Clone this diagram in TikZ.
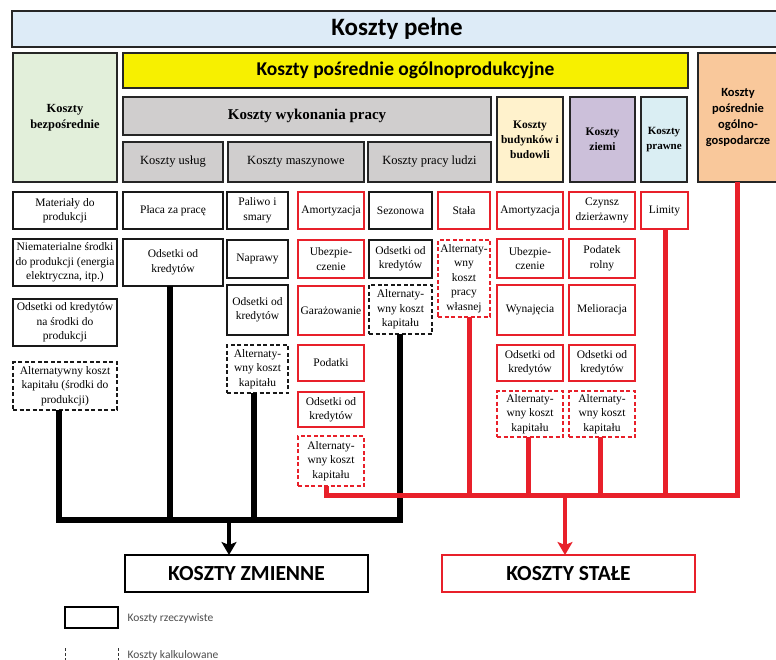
\documentclass[tikz,border=0pt]{standalone}
\usepackage{fontspec}
\setmainfont{Liberation Serif}
\newfontfamily\calfont{Carlito}
\usetikzlibrary{arrows.meta}
\definecolor{redc}{HTML}{E8202A}
\definecolor{hblue}{HTML}{DDEBF7}
\definecolor{hgreen}{HTML}{E2EFDA}
\definecolor{hyel}{HTML}{F7F000}
\definecolor{horange}{HTML}{F9C89B}
\definecolor{hgrey}{HTML}{D0CECE}
\definecolor{hcream}{HTML}{FFF2CC}
\definecolor{hlav}{HTML}{CCC0DA}
\definecolor{hcyan}{HTML}{DAEEF3}
\newcommand\mybx[7]{%
  \pgfmathsetmacro\myBW{#4-#2}\pgfmathsetmacro\myBH{#5-#3}%
  \pgfmathsetmacro\myCX{(#2+#4)/2}\pgfmathsetmacro\myCY{(#3+#5)/2}%
  \node[#6, minimum width=\myBW pt, minimum height=\myBH pt] (#1) at (\myCX,\myCY) {#7};}
\tikzset{
  hdr/.style={draw=black!85, line width=1.8pt, align=center, inner sep=0pt, outer sep=0pt},
  item/.style={draw=black!90, line width=1.6pt, fill=white, align=center, inner sep=0pt, outer sep=0pt,
    font=\fontsize{11.5}{14.5}\selectfont},
  itemr/.style={item, draw=redc, line width=1.4pt},
  itemd/.style={item, line width=1.3pt, dash pattern=on 4pt off 2.5pt},
  itemrd/.style={itemr, line width=1.3pt, dash pattern=on 4pt off 2.5pt},
  blk/.style={line width=6pt, black, line join=miter},
  rd/.style={line width=5pt, redc, line join=miter},
  big/.style={draw, line width=1.6pt, fill=white, inner sep=0pt, outer sep=0pt,
    font=\calfont\bfseries\fontsize{21.5}{24}\selectfont},
  legt/.style={anchor=west, text=black!70, font=\calfont\fontsize{11.5}{13}\selectfont}
}
\begin{document}
\begin{tikzpicture}[x=1pt,y=-1pt]
\useasboundingbox (0,0) rectangle (776,660);
\clip (0,0) rectangle (776,660);
% headers
\mybx{kp}{12}{11}{782}{47}{hdr, fill=hblue, font=\calfont\bfseries\fontsize{25}{28}\selectfont}{Koszty pełne}
\mybx{bez}{13}{53}{117}{182}{hdr, fill=hgreen, font=\bfseries\fontsize{12.4}{16}\selectfont}{Koszty\\bezpośrednie}
\mybx{ylw}{123}{53}{688}{88}{hdr, fill=hyel, font=\calfont\bfseries\fontsize{19.5}{22}\selectfont}{Koszty pośrednie ogólnoprodukcyjne}
\mybx{ogg}{698}{53}{778}{182}{hdr, fill=horange, font=\calfont\bfseries\fontsize{12.5}{16}\selectfont}{Koszty\\pośrednie\\ogólno-\\gospodarcze}
\mybx{wyk}{123}{97}{491}{135}{hdr, fill=hgrey, font=\bfseries\fontsize{15}{18}\selectfont}{Koszty wykonania pracy}
\mybx{usl}{123}{142}{223}{182}{hdr, fill=hgrey, font=\fontsize{12.5}{15}\selectfont}{Koszty usług}
\mybx{masz}{228}{142}{364}{182}{hdr, fill=hgrey, font=\fontsize{12.5}{15}\selectfont}{Koszty maszynowe}
\mybx{ludz}{368}{142}{491}{182}{hdr, fill=hgrey, font=\fontsize{12.5}{15}\selectfont}{Koszty pracy ludzi}
\mybx{bud}{497}{97}{563}{182}{hdr, fill=hcream, font=\bfseries\fontsize{11.5}{15}\selectfont}{Koszty\\budynków i\\budowli}
\mybx{zie}{570}{97}{635}{182}{hdr, fill=hlav, font=\bfseries\fontsize{11.5}{15}\selectfont}{Koszty\\ziemi}
\mybx{pra}{641}{97}{687}{182}{hdr, fill=hcyan, font=\bfseries\fontsize{11}{15}\selectfont}{Koszty\\prawne}
% column 1
\mybx{c1a}{13}{192}{117}{229}{item}{Materiały do\\produkcji}
\mybx{c1b}{13}{239}{117}{286}{item}{Niematerialne środki\\do produkcji (energia\\elektryczna, itp.)}
\mybx{c1c}{13}{299}{117}{346}{item}{Odsetki od kredytów\\na środki do\\produkcji}
\mybx{c1d}{13}{362}{117}{410}{itemd}{Alternatywny koszt\\kapitału (środki do\\produkcji)}
% column 2
\mybx{c2a}{123}{192}{223}{229}{item}{Płaca za pracę}
\mybx{c2b}{123}{239}{223}{286}{item}{Odsetki od\\kredytów}
% column 3
\mybx{c3a}{227}{192}{288}{229}{item}{Paliwo i\\smary}
\mybx{c3b}{227}{240}{288}{278}{item}{Naprawy}
\mybx{c3c}{227}{285}{288}{335}{item}{Odsetki od\\kredytów}
\mybx{c3d}{227}{345}{288}{393}{itemd}{Alternaty-\\wny koszt\\kapitału}
% column 4
\mybx{c4a}{298}{192}{364}{229}{itemr}{Amortyzacja}
\mybx{c4b}{298}{240}{364}{278}{itemr}{Ubezpie-\\czenie}
\mybx{c4c}{298}{286}{364}{335}{itemr}{Garażowanie}
\mybx{c4d}{298}{345}{364}{381}{itemr}{Podatki}
\mybx{c4e}{298}{392}{364}{427}{itemr}{Odsetki od\\kredytów}
\mybx{c4f}{298}{436}{364}{486}{itemrd}{Alternaty-\\wny koszt\\kapitału}
% column 5
\mybx{c5a}{369}{192}{432}{229}{item}{Sezonowa}
\mybx{c5b}{369}{240}{432}{278}{item}{Odsetki od\\kredytów}
\mybx{c5c}{369}{285}{432}{334}{itemd}{Alternaty-\\wny koszt\\kapitału}
% column 6
\mybx{c6a}{438}{192}{490}{229}{itemr}{Stała}
\mybx{c6b}{438}{240}{490}{317}{itemrd}{Alternaty-\\wny\\koszt\\pracy\\własnej}
% column 7
\mybx{c7a}{497}{192}{563}{229}{itemr}{Amortyzacja}
\mybx{c7b}{497}{239}{563}{278}{itemr}{Ubezpie-\\czenie}
\mybx{c7c}{497}{285}{563}{335}{itemr}{Wynajęcia}
\mybx{c7d}{497}{345}{563}{381}{itemr}{Odsetki od\\kredytów}
\mybx{c7e}{497}{391}{563}{437}{itemrd}{Alternaty-\\wny koszt\\kapitału}
% column 8
\mybx{c8a}{569}{192}{635}{229}{itemr}{Czynsz\\dzierżawny}
\mybx{c8b}{569}{239}{635}{278}{itemr}{Podatek\\rolny}
\mybx{c8c}{569}{285}{635}{335}{itemr}{Melioracja}
\mybx{c8d}{569}{345}{635}{381}{itemr}{Odsetki od\\kredytów}
\mybx{c8e}{569}{391}{635}{437}{itemrd}{Alternaty-\\wny koszt\\kapitału}
% column 9
\mybx{c9a}{641}{192}{688}{229}{itemr}{Limity}
% result boxes
\mybx{zm}{125}{555}{368}{592}{big}{KOSZTY ZMIENNE}
\mybx{st}{442}{555}{695}{592}{big, draw=redc}{KOSZTY STAŁE}
% black bus
\coordinate (bk1) at (59,520);
\coordinate (bk2) at (170,520);
\coordinate (bk3) at (254,520);
\coordinate (bk5) at (400,520);
\coordinate (bkA) at (229,520);
\draw[blk] (bk1 |- c1d.south) -- (bk1) -- (bk5) -- (bk5 |- c5c.south);
\draw[blk] (bk2 |- c2b.south) -- (bk2);
\draw[blk] (bk3 |- c3d.south) -- (bk3);
\draw[black, line width=3.5pt, -{Stealth[length=13pt,width=15pt,inset=3pt]}] (bkA) -- (bkA |- zm.north);
% red bus
\coordinate (r4) at (326,495);
\coordinate (r6) at (469,495);
\coordinate (r7) at (528,495);
\coordinate (r8) at (600,495);
\coordinate (r9) at (665,495);
\coordinate (r10) at (737,495);
\coordinate (rA) at (565,495);
\draw[rd] (r4 |- c4f.south) -- (r4) -- (r10) -- (r10 |- ogg.south);
\draw[rd] (r6 |- c6b.south) -- (r6);
\draw[rd] (r7 |- c7e.south) -- (r7);
\draw[rd] (r8 |- c8e.south) -- (r8);
\draw[rd] (r9 |- c9a.south) -- (r9);
\draw[redc, line width=3.5pt, -{Stealth[length=13pt,width=15pt,inset=3pt]}] (rA) -- (rA |- st.north);
% legend
\mybx{lg1}{65}{607}{118}{628}{draw, line width=1.5pt}{}
\node[legt] (lt1) at (124,618) {Koszty rzeczywiste};
\draw[black!80, line width=0.8pt, dash pattern=on 3pt off 2pt] (65,648) -- (65,662);
\draw[black!80, line width=0.8pt, dash pattern=on 3pt off 2pt] (118,648) -- (118,662);
\node[legt] (lt2) at (124,655) {Koszty kalkulowane};
\end{tikzpicture}
\end{document}
